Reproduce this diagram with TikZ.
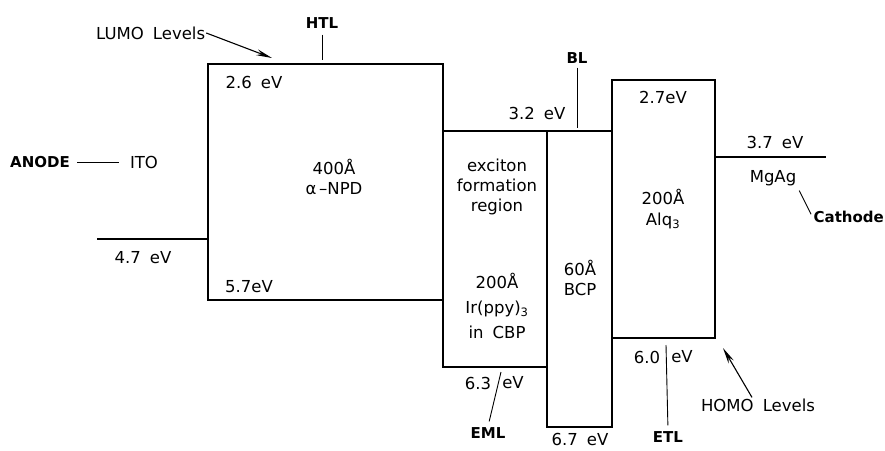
\documentclass[tikz,border=0pt]{standalone}
\usepackage{fontspec}
\setmainfont{DejaVu Sans}
\usetikzlibrary{arrows.meta,positioning}
\newcommand{\valfont}{\fontsize{16.5}{20}\selectfont}
\newcommand{\tagfont}{\fontsize{15}{18}\selectfont\bfseries}
\newcommand{\gap}{\hspace{0.55em}}
\tikzset{
  levelbox/.style={rectangle,draw=black,line width=1.6pt,inner sep=0pt},
  valtext/.style={font=\valfont,inner sep=1pt,align=center},
  tagtext/.style={font=\tagfont,inner sep=1pt},
  tickline/.style={line width=0.9pt,color=black},
  wireline/.style={line width=1.4pt,color=black},
  pointarr/.style={-{Stealth[length=16pt,width=6pt]},line width=1.1pt,color=black}
}

\begin{document}
\begin{tikzpicture}[x=1pt,y=-1pt]
  \useasboundingbox (0,0) rectangle (885,450);

  \node[levelbox,minimum width=235pt,minimum height=236pt] (htl) at (325.5,182) {};
  \node[levelbox,minimum width=104pt,minimum height=236pt] (eml) at (495,249) {};
  \node[levelbox,minimum width=65pt,minimum height=296pt] (bl) at (579.5,279) {};
  \node[levelbox,minimum width=103pt,minimum height=258pt] (etl) at (663.5,209) {};

  \coordinate (itoend) at (97,239);
  \coordinate (mgend) at (826,157);
  \draw[wireline] (itoend) -- (itoend -| htl.west);
  \draw[wireline] (etl.east |- mgend) -- (mgend);

  \node[tagtext] (anode) at (40,162) {ANODE};
  \node[valtext] (itolbl) at (144,162) {ITO};
  \draw[tickline,shorten <=6pt,shorten >=10pt] (anode.east) -- (itolbl.west);
  \node[valtext] (itoval) at (143,258) {4.7\gap eV};

  \node[valtext,anchor=west] (lumo) at (95,33) {LUMO\gap Levels};
  \coordinate (lumotip) at (272,58);
  \draw[pointarr] (lumo.east) -- (lumotip);

  \node[tagtext] (htllbl) at (322,23) {HTL};
  \coordinate (htltop) at (322,60);
  \draw[tickline,shorten <=5pt] (htllbl.south) -- (htltop);
  \node[valtext] (htlup) at (254,82) {2.6\gap eV};
  \node[valtext] (htlmid) at (334,177) {400Å\\α\,–NPD};
  \node[valtext] (htldown) at (249,287) {5.7eV};

  \node[valtext] (emlup) at (537,113) {3.2\gap eV};
  \node[valtext] (emlmid) at (497,187) {exciton\\formation\\region};
  \node[valtext,font={\fontsize{16.5}{25}\selectfont}] (emllow) at (497,306)
      {200Å\\Ir(ppy)\textsubscript{3}\\in\gap CBP};
  \node[valtext] (emldown) at (478,383) {6.3};
  \node[valtext] (emlev) at (513,383) {eV};
  \node[tagtext] (emllbl) at (488,433) {EML};
  \coordinate (emlslash) at (501,372);
  \draw[tickline,shorten >=5pt] (emlslash) -- (emllbl.north);

  \node[tagtext] (bllbl) at (577,58) {BL};
  \coordinate (bltop) at (577,128);
  \draw[tickline,shorten <=3pt] (bllbl.south) -- (bltop);
  \node[valtext] (blmid) at (580,277.5) {60Å\\BCP};
  \node[valtext,anchor=south] (bldown) at (580,447) {6.7\gap eV};

  \node[valtext] (etlup) at (663,97) {2.7eV};
  \node[valtext,font={\fontsize{16.5}{21}\selectfont}] (etlmid) at (663,209.5)
      {200Å\\Alq\textsubscript{3}};
  \node[valtext] (etldown) at (647,357) {6.0};
  \node[valtext] (etlev) at (682,357) {eV};
  \node[tagtext] (etllbl) at (668,437) {ETL};
  \coordinate (etltick) at (666,345);
  \draw[tickline,shorten >=5pt] (etltick) -- (etllbl.north);

  \node[valtext] (homo) at (758,405) {HOMO\gap Levels};
  \coordinate (homotip) at (723,348);
  \draw[pointarr] ([xshift=-6pt]homo.north) -- (homotip);

  \node[valtext] (mgup) at (775,142) {3.7\gap eV};
  \node[valtext] (mgag) at (773,178) {MgAg};
  \node[tagtext,anchor=east] (cathode) at (885,217) {Cathode};
  \draw[tickline,shorten <=4pt,shorten >=3pt] (mgag.south east) -- (cathode.west);

\end{tikzpicture}
\end{document}
